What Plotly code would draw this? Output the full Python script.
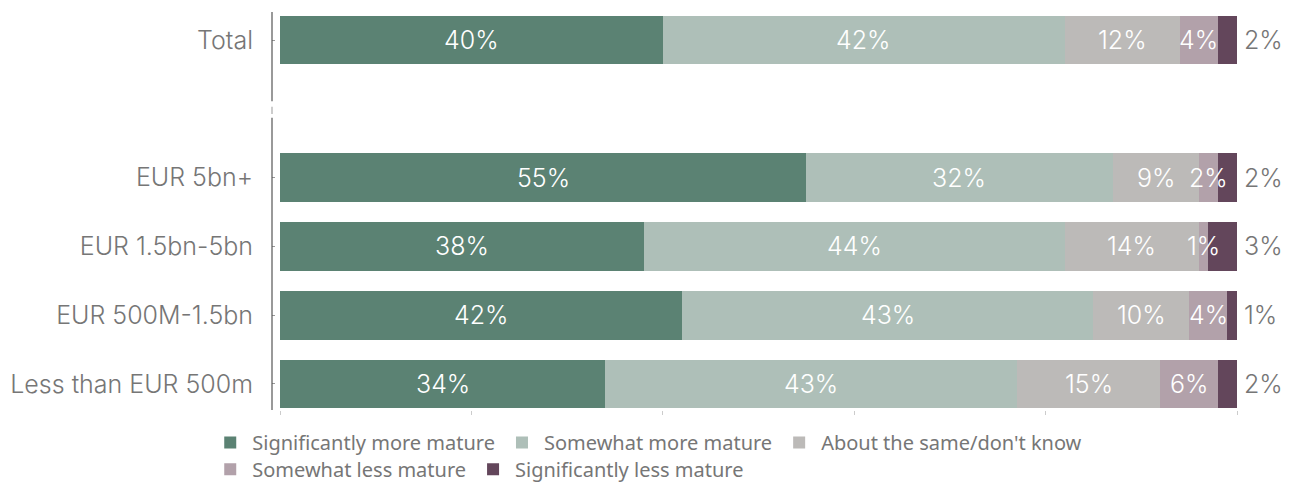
import plotly.graph_objects as go

# Survey results: perceived maturity relative to peers, by company revenue
categories = ["Total", "EUR 5bn+", "EUR 1.5bn-5bn", "EUR 500M-1.5bn", "Less than EUR 500m"]
row_pos = [5, 3, 2, 1, 0]  # a blank slot separates Total from the size bands

series_names = [
    "Significantly more mature",
    "Somewhat more mature",
    "About the same/don't know",
    "Somewhat less mature",
    "Significantly less mature",
]
sig_more = [40, 55, 38, 42, 34]
some_more = [42, 32, 44, 43, 43]
same = [12, 9, 14, 10, 15]
some_less = [4, 2, 1, 4, 6]
sig_less = [2, 2, 3, 1, 2]
series_values = [sig_more, some_more, same, some_less, sig_less]

colors = ["#5b8273", "#aebfb8", "#bcbab8", "#b2a1aa", "#63465b"]
legend_rows = ["legend", "legend", "legend", "legend2", "legend2"]
label_font = "Inter"
text_grey = "#767676"

fig = go.Figure()
for name, vals, col, lg in zip(series_names, series_values, colors, legend_rows):
    fig.add_trace(go.Bar(
        y=row_pos, x=vals, name=name, orientation="h",
        marker=dict(color=col, line=dict(width=0)),
        width=0.71, hoverinfo="skip", legend=lg,
    ))

# Value labels: white inside each segment, grey beyond the final segment
for i, y in enumerate(row_pos):
    start = 0
    for s, vals in enumerate(series_values):
        v = vals[i]
        end = start + v
        if s < len(series_values) - 1:
            fig.add_annotation(x=(start + end) / 2, y=y, text=f"{v}%", showarrow=False,
                               font=dict(family=label_font, size=25, color="white", weight=300),
                               xanchor="center", yanchor="middle")
        else:
            fig.add_annotation(x=end, y=y, text=f"{v}%", showarrow=False,
                               font=dict(family=label_font, size=25, color=text_grey, weight=300),
                               xanchor="left", yanchor="middle", xshift=5)
        start = end

# Left axis line, broken at the blank slot (paper y measured from the bottom)
axis_segments = [(0.0, 0.734, "#555555"), (0.744, 0.762, "#aaaaaa"), (0.776, 1.0, "#555555")]
for y0, y1, c in axis_segments:
    fig.add_shape(type="line", xref="paper", yref="paper", x0=0, x1=0, y0=y0, y1=y1,
                  line=dict(color=c, width=1.2))

legend_common = dict(orientation="h", xref="container", yref="container",
                     xanchor="left", yanchor="top", itemwidth=34, traceorder="normal",
                     bgcolor="rgba(0,0,0,0)",
                     font=dict(family="Noto Sans", size=20, color=text_grey))

fig.update_layout(
    width=1295, height=483,
    margin=dict(l=272, r=58, t=12, b=73, autoexpand=False),
    paper_bgcolor="white", plot_bgcolor="white",
    barmode="stack", bargap=0,
    showlegend=True,
    legend=dict(x=0.1608, y=0.1242, **legend_common),
    legend2=dict(x=0.1608, y=0.0690, **legend_common),
    xaxis=dict(range=[-0.84, 100], showgrid=False, zeroline=False, showline=False,
               tickmode="array", tickvals=[0, 20, 40, 60, 80, 100], showticklabels=False,
               ticks="outside", ticklen=4, tickcolor="#cccccc", tickwidth=1),
    yaxis=dict(range=[-0.378, 5.407], showgrid=False, zeroline=False, showline=False,
               tickmode="array", tickvals=row_pos, ticktext=categories,
               ticks="inside", ticklen=3, tickcolor="#999999", ticklabelstandoff=18,
               tickfont=dict(family=label_font, size=25, color=text_grey, weight=300)),
)

fig.write_html("out.html")
